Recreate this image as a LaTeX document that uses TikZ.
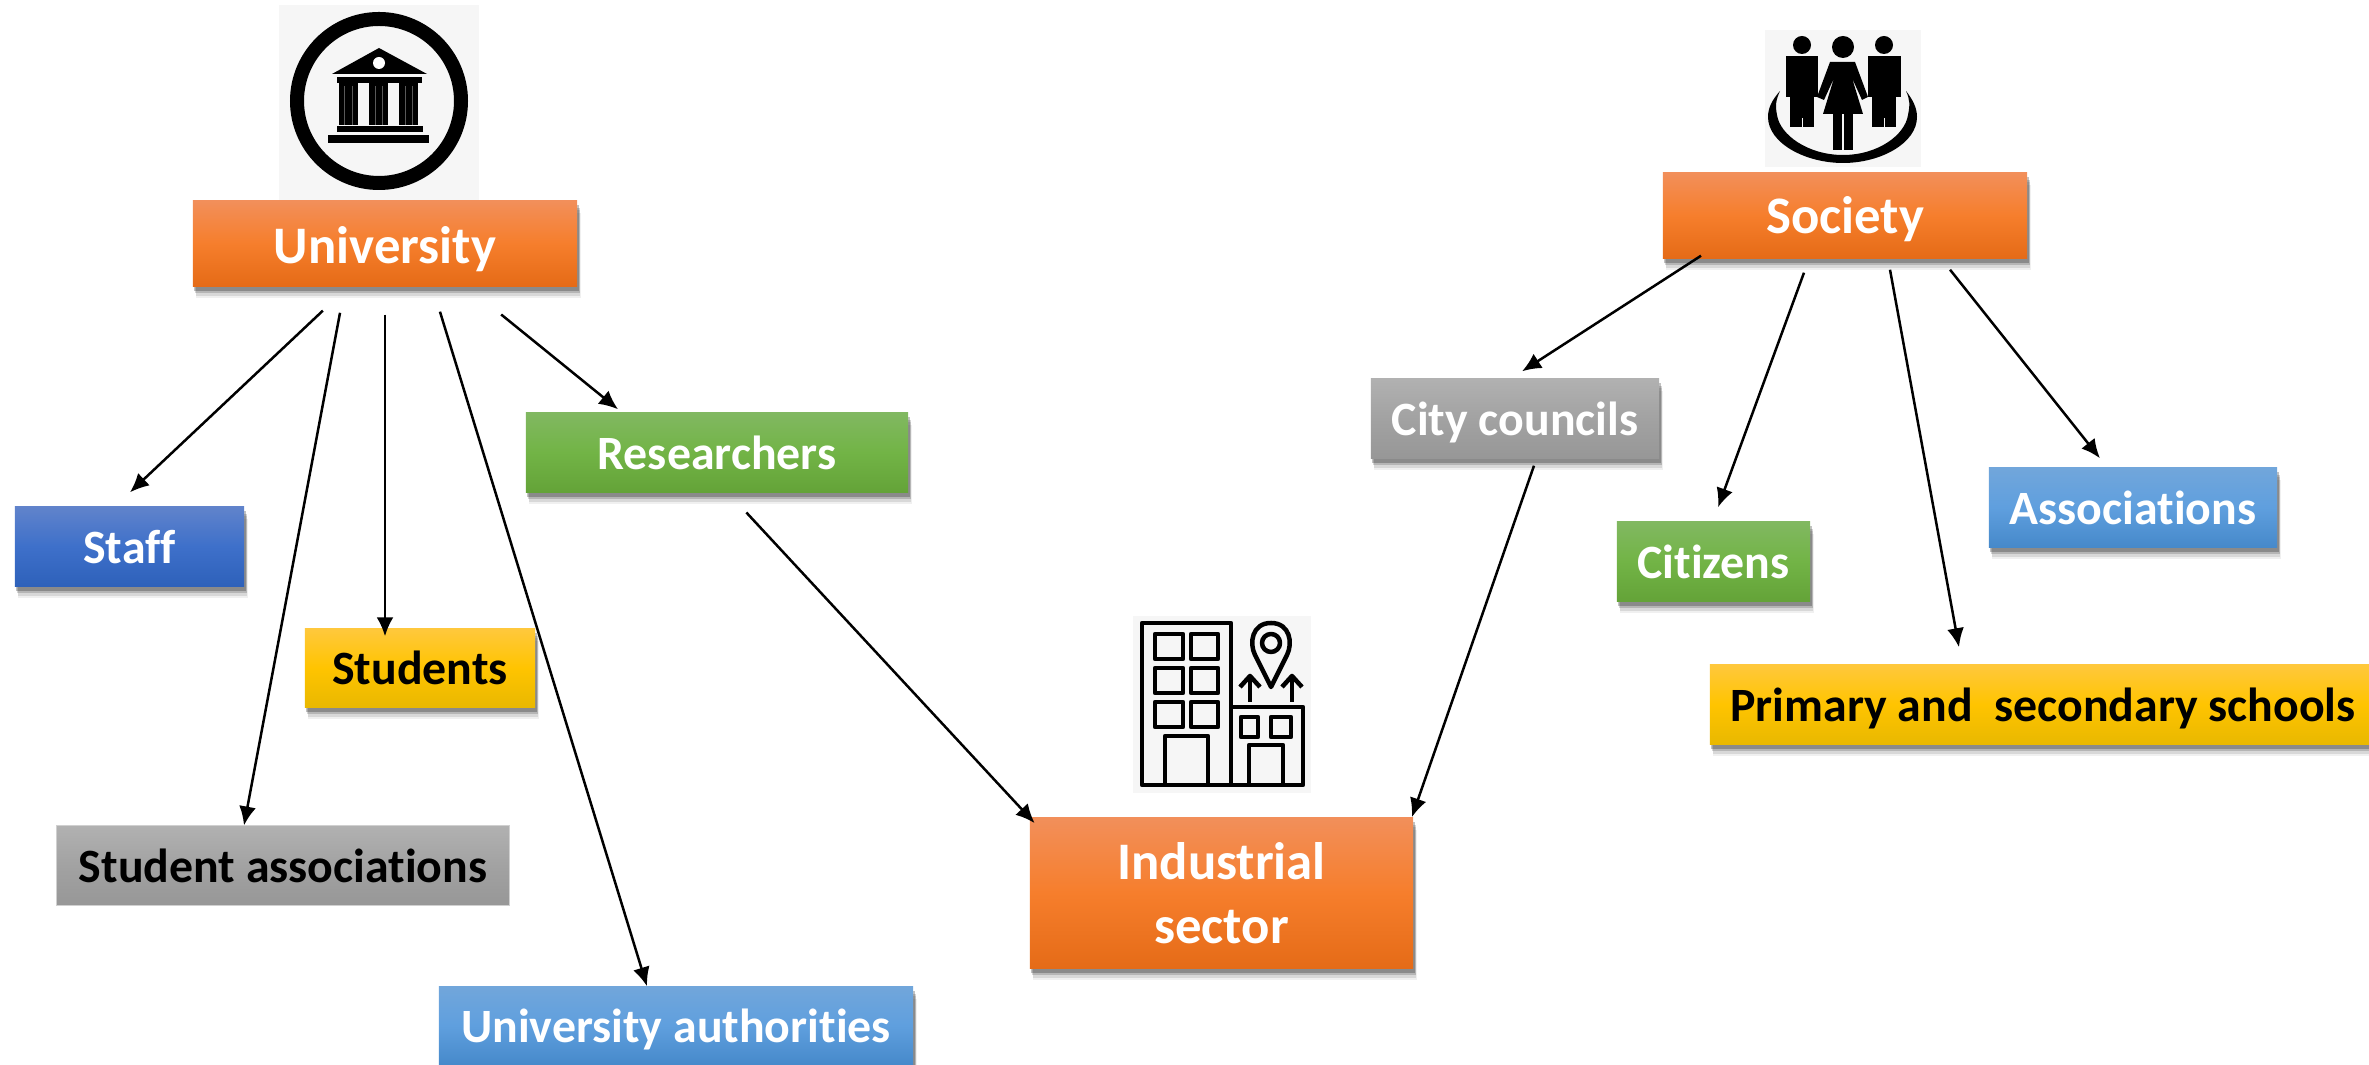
\documentclass[tikz,border=0pt]{standalone}
\usepackage{fontspec}
\setmainfont{Carlito}[Ligatures={NoCommon}]
\usepackage{tikz}
\usetikzlibrary{calc}
\usetikzlibrary{shadows}
\usetikzlibrary{arrows.meta}
\definecolor{iconback}{HTML}{F6F6F6}
\tikzset{
    softshadow/.style={
        drop shadow={shadow xshift=.35mm, shadow yshift=-1.2mm, opacity=.06, fill=black},
        drop shadow={shadow xshift=.3mm, shadow yshift=-.95mm, opacity=.10, fill=black},
        drop shadow={shadow xshift=.25mm, shadow yshift=-.7mm, opacity=.16, fill=black},
        drop shadow={shadow xshift=.15mm, shadow yshift=-.45mm, opacity=.24, fill=black}},
    labelbox/.style={rectangle, inner sep=0pt, font=\fontsize{13.6}{16}\selectfont\bfseries, text=white, text height=11.8pt, text depth=2.15pt},
    orangebox/.style={labelbox, softshadow, top color=orangeA, bottom color=orangeC, middle color=orangeB, font=\fontsize{15}{18.1}\selectfont\bfseries, text height=13.6pt, text depth=2.25pt},
    bluebox/.style={labelbox, softshadow, top color=blueA, bottom color=blueC, middle color=blueB},
    skybox/.style={labelbox, softshadow, top color=skyA, bottom color=skyC, middle color=skyB},
    greenbox/.style={labelbox, softshadow, top color=greenA, bottom color=greenC, middle color=greenB},
    yellowbox/.style={labelbox, softshadow, top color=yellowA, bottom color=yellowC, middle color=yellowB, text=black},
    greybox/.style={labelbox, softshadow, top color=greyA, bottom color=greyC, middle color=greyB},
    flatbox/.style={labelbox, top color=greyA, bottom color=greyC, middle color=greyB, text=black, draw=greyA!60!white, line width=.1mm},
    branchline/.style={line width=.25mm, black, -{Latex[length=1.9mm,width=1.7mm]}},
    iconline/.style={line width=.45mm, black, line join=round},
}
\definecolor{orangeA}{HTML}{F28F5A}\definecolor{orangeB}{HTML}{F67E2C}\definecolor{orangeC}{HTML}{E56B17}
\definecolor{blueA}{HTML}{6083CB}\definecolor{blueB}{HTML}{3E70CA}\definecolor{blueC}{HTML}{2E61BA}
\definecolor{skyA}{HTML}{71A6DB}\definecolor{skyB}{HTML}{5F9FDE}\definecolor{skyC}{HTML}{4689CA}
\definecolor{greenA}{HTML}{81B861}\definecolor{greenB}{HTML}{72B446}\definecolor{greenC}{HTML}{64A338}
\definecolor{yellowA}{HTML}{FFC83C}\definecolor{yellowB}{HTML}{FFC400}\definecolor{yellowC}{HTML}{E9B800}
\definecolor{greyA}{HTML}{B1B1B1}\definecolor{greyB}{HTML}{A2A2A2}\definecolor{greyC}{HTML}{979797}
\newcommand{\branch}[6]{ \draw[branchline, shorten <=#3mm, shorten >=#6mm] ($(#1)+(#2,0)$) -- ($(#4)+(#5,0)$);}
\newcommand{\pane}[4]{ \draw[iconline] ( #1 , #2 ) rectangle ( #3 , #4 );}
\newcommand{\solid}[4]{ \fill[black] ( #1 , #2 ) rectangle ( #3 , #4 );}
\newcommand{\flute}[2]{ \draw[white, opacity=.35, line width=.08mm] ( #1 , #2 ) -- ( #1 , 125 );}
\begin{document}
\begin{tikzpicture}[x=.01cm, y=-.01cm]
        \useasboundingbox (0,0) rectangle (2369,1065);

        % university icon
        \fill[iconback] (279,5) rectangle (479,200);
        \draw[black, line width=1.4mm] (379,101) circle (82);
        \fill[black] (379,48) -- (332,74) -- (427,74) -- cycle;
        \fill[white] (379,63) circle (6);
        \solid{337}{77}{422}{83}
        \solid{339}{83}{358}{125}
        \solid{369}{83}{388}{125}
        \solid{399}{83}{418}{125}
        \flute{344}{86}
        \flute{352}{86}
        \flute{375}{86}
        \flute{382}{86}
        \flute{405}{86}
        \flute{412}{86}
        \solid{337}{126}{423}{132}
        \solid{328}{135}{429}{143}

        % society icon
        \fill[iconback] (1765,30) rectangle (1921,167);
        \fill[black] (1802,45) circle (9);
        \solid{1786}{56}{1818}{97}
        \solid{1790}{97}{1814}{127}
        \fill[iconback] (1801.5,118) rectangle (1803,127);
        \fill[black] (1884,45) circle (9);
        \solid{1868}{56}{1901}{97}
        \solid{1872}{97}{1896}{127}
        \fill[iconback] (1883.5,118) rectangle (1885,127);
        \fill[black] (1843,47) circle (11);
        \fill[black] (1830,62) -- (1855,62) -- (1868,97) -- (1862,100) -- (1852,78) -- (1863,114) -- (1823,114) -- (1834,78) -- (1824,100) -- (1817,97) -- cycle;
        \solid{1833}{114}{1842}{150}
        \solid{1844}{114}{1853}{150}
        \fill[black] (1780,91) .. controls (1772,100) and (1768,108) .. (1768,117) .. controls (1768,143) and (1805,163) .. (1843,163) .. controls (1881,163) and (1917,143) .. (1917,117) .. controls (1917,108) and (1913,100) .. (1906,91) .. controls (1910,100) and (1910,105) .. (1908,115) .. controls (1905,135) and (1878,155) .. (1843,155) .. controls (1808,155) and (1780,135) .. (1777,115) .. controls (1775,105) and (1776,100) .. (1780,91) -- cycle;

        % industry icon
        \fill[iconback] (1133,616) rectangle (1311,793);
        \pane{1142}{623}{1231}{785}
        \pane{1231}{707}{1303}{785}
        \pane{1155}{634}{1183}{659}
        \pane{1191}{634}{1218}{659}
        \pane{1155}{668}{1183}{693}
        \pane{1191}{668}{1218}{693}
        \pane{1155}{702}{1183}{727}
        \pane{1191}{702}{1218}{727}
        \pane{1165}{736}{1208}{785}
        \pane{1241}{717}{1258}{737}
        \pane{1271}{717}{1291}{737}
        \pane{1249}{745}{1283}{785}
        \draw[iconline] (1271,687) -- (1255,655) .. controls (1249,643) and (1252,623) .. (1271,623) .. controls (1290,623) and (1293,643) .. (1287,655) -- cycle;
        \draw[iconline] (1271,643) circle (9);
        \draw[iconline] (1250,702) -- (1250,676);
        \draw[iconline] (1240,687) -- (1250,676) -- (1260,687);
        \draw[iconline] (1292,702) -- (1292,676);
        \draw[iconline] (1282,687) -- (1292,676) -- (1302,687);

        % main boxes
        \node[orangebox, minimum width=3.84cm, minimum height=.85cm] (university) at (385,243.5) {University};
        \node[orangebox, minimum width=3.64cm, minimum height=.85cm, text height=13pt, text depth=2.5pt] (society) at (1845,215.5) {Society};
        \node[orangebox, minimum width=3.83cm, minimum height=1.5cm, align=center, text height=, text depth=] (industrial) at (1221.5,893) {Industrial\\sector};

        % university side
        \node[bluebox, minimum width=2.29cm, minimum height=.79cm] (staff) at (129.5,546.5) {Staff};
        \node[yellowbox, minimum width=2.3cm, minimum height=.78cm] (students) at (420,668) {Students};
        \node[flatbox, minimum width=4.52cm, minimum height=.79cm] (studentassoc) at (283,865.5) {Student associations};
        \node[skybox, minimum width=4.74cm, minimum height=.78cm] (authorities) at (676,1026) {University authorities};
        \node[greenbox, minimum width=3.82cm, minimum height=.79cm] (researchers) at (717,452.5) {Researchers};

        % society side
        \node[greybox, minimum width=2.88cm, minimum height=.79cm] (councils) at (1515,418.5) {City councils};
        \node[greenbox, minimum width=1.93cm, minimum height=.79cm] (citizens) at (1713.5,561.5) {Citizens};
        \node[skybox, minimum width=2.88cm, minimum height=.79cm] (associations) at (2133,507.5) {Associations};
        \node[yellowbox, minimum width=6.59cm, minimum height=.79cm] (schools) at (2039.5,704.5) {\hspace*{.7mm}Primary and\ \ secondary schools};

        % arrows
        \branch{university.south}{-36.7}{3.49}{staff.north}{-14.3}{2.03}
        \branch{university.south}{-40.1}{2.65}{studentassoc.north}{-39}{0}
        \branch{university.south}{0}{2.8}{students.north}{-35}{-.8}
        \branch{university.south}{47.3}{2.61}{authorities.north}{-29}{0}
        \branch{university.south}{81.9}{4.41}{researchers.north}{-95.3}{.47}
        \branch{researchers.south}{11}{2.7}{industrial.north west}{0}{-.8}
        \branch{councils.south}{21.4}{.74}{industrial.north east}{-2}{0}
        \branch{society.south}{-148.6}{-.55}{councils.north}{-3.7}{1.28}
        \branch{society.south}{-35.9}{1.49}{citizens.north}{-.6}{1.49}
        \branch{society.south}{43}{1.12}{schools.north}{-77.4}{1.73}
        \branch{society.south}{96.3}{1.4}{associations.north}{-25.9}{1.15}
\end{tikzpicture}
\end{document}
